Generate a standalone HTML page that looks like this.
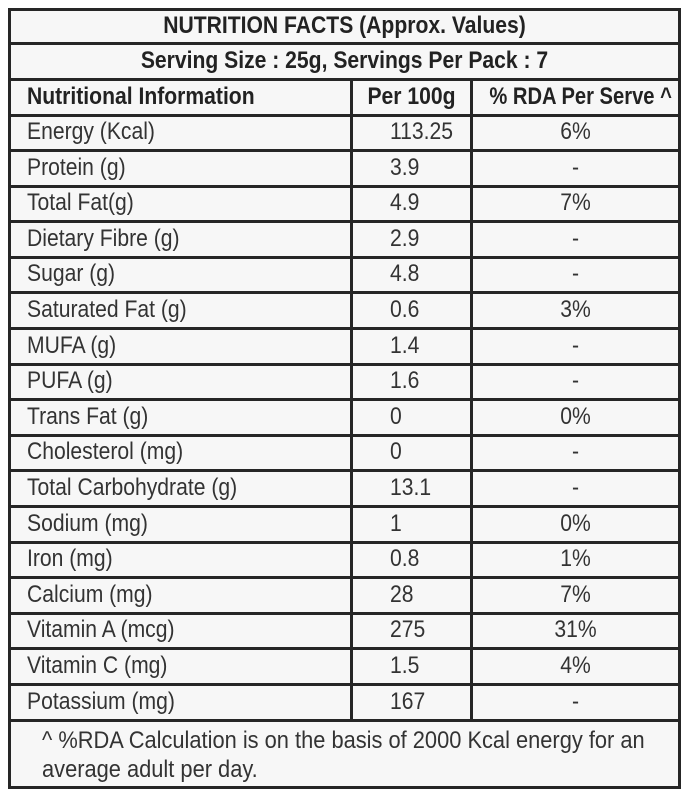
<!DOCTYPE html>
<html><head><meta charset="utf-8"><style>
body{margin:0;width:683px;height:800px;background:#fff;position:relative;overflow:hidden;font-family:"Liberation Sans",sans-serif;color:#333;}
.h{position:absolute;background:#262626;height:3px;}
.v{position:absolute;background:#262626;width:3px;}
.t{position:absolute;font-size:24px;line-height:26px;white-space:nowrap;transform:scaleX(0.88);transform-origin:left center;}
.c{transform-origin:center center;text-align:center;}
.b{font-weight:bold;color:#222;}
</style></head><body>
<div style="position:absolute;left:9px;top:9px;width:671px;height:779px;background:#f7f7f7"></div>
<div class="h" style="left:8px;top:8px;width:673px"></div>
<div class="h" style="left:8px;top:786px;width:673px"></div>
<div class="v" style="left:8px;top:8px;height:781px"></div>
<div class="v" style="left:678px;top:8px;height:781px"></div>
<div class="h" style="left:8px;top:42px;width:673px"></div>
<div class="h" style="left:8px;top:78px;width:673px"></div>
<div class="h" style="left:8px;top:114px;width:673px"></div>
<div class="v" style="left:350px;top:78px;height:642px"></div>
<div class="v" style="left:470px;top:78px;height:642px"></div>
<div class="t b c" style="left:8px;width:673px;top:13px">NUTRITION FACTS (Approx. Values)</div>
<div class="t b c" style="left:8px;width:673px;top:48px">Serving Size : 25g, Servings Per Pack : 7</div>
<div class="t b" style="left:27px;top:84px">Nutritional Information</div>
<div class="t b c" style="left:353px;width:117px;top:84px">Per 100g</div>
<div class="t b c" style="left:473px;width:205px;top:84px;transform:scaleX(0.84)">% RDA Per Serve ^</div>
<div id="rows"></div>
<div class="t" style="left:42px;top:728px;transform:scaleX(0.91)">^ %RDA Calculation is on the basis of 2000 Kcal energy for an</div>
<div class="t" style="left:42px;top:757px;transform:scaleX(0.91)">average adult per day.</div>
<script>
var d=[["Energy (Kcal)","113.25","6%"],["Protein (g)","3.9","-"],["Total Fat(g)","4.9","7%"],["Dietary Fibre (g)","2.9","-"],["Sugar (g)","4.8","-"],["Saturated Fat (g)","0.6","3%"],["MUFA (g)","1.4","-"],["PUFA (g)","1.6","-"],["Trans Fat (g)","0","0%"],["Cholesterol (mg)","0","-"],["Total Carbohydrate (g)","13.1","-"],["Sodium (mg)","1","0%"],["Iron (mg)","0.8","1%"],["Calcium (mg)","28","7%"],["Vitamin A (mcg)","275","31%"],["Vitamin C (mg)","1.5","4%"],["Potassium (mg)","167","-"]];
var h="";
for(var i=0;i<d.length;i++){var y=115+i*35.6;
h+='<div class="h" style="left:8px;top:'+(y+34)+'px;width:673px"></div>';
h+='<div class="t" style="left:27px;top:'+(y+4)+'px">'+d[i][0]+'</div>';
h+='<div class="t" style="left:390px;top:'+(y+4)+'px">'+d[i][1]+'</div>';
h+='<div class="t c" style="left:473px;width:205px;top:'+(y+4)+'px">'+d[i][2]+'</div>';}
document.getElementById("rows").innerHTML=h;
</script>
</body></html>
